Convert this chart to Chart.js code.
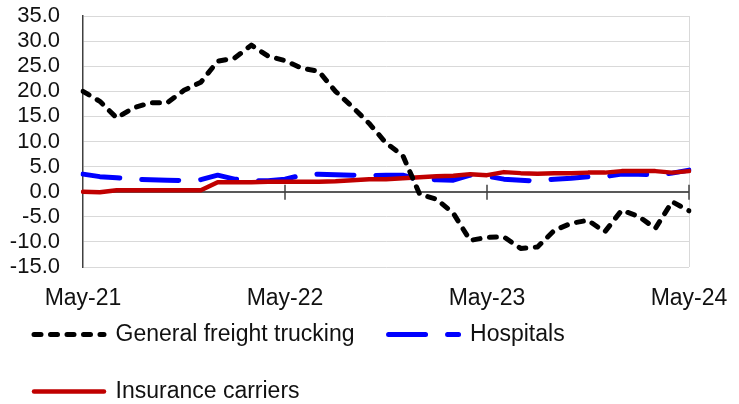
<!DOCTYPE html>
<html>
<head>
<meta charset="utf-8">
<script src="https://cdn.jsdelivr.net/npm/chart.js@4"></script>
<style>
  body { margin: 0; background: #fff; }
  #wrap { width: 739px; height: 404px; position: relative; }
</style>
</head>
<body>
<div id="wrap"><canvas id="chart"></canvas></div>
<script>
const months = [
  'May-21', 'Jun-21', 'Jul-21', 'Aug-21', 'Sep-21', 'Oct-21', 'Nov-21', 'Dec-21',
  'Jan-22', 'Feb-22', 'Mar-22', 'Apr-22', 'May-22', 'Jun-22', 'Jul-22', 'Aug-22',
  'Sep-22', 'Oct-22', 'Nov-22', 'Dec-22', 'Jan-23', 'Feb-23', 'Mar-23', 'Apr-23',
  'May-23', 'Jun-23', 'Jul-23', 'Aug-23', 'Sep-23', 'Oct-23', 'Nov-23', 'Dec-23',
  'Jan-24', 'Feb-24', 'Mar-24', 'Apr-24', 'May-24'
];

const trucking = [
  20.0, 18.0, 14.7, 16.7, 17.7, 17.7, 20.2, 21.8, 26.0, 26.6, 29.2, 27.0, 26.1,
  24.6, 24.0, 20.0, 16.9, 13.6, 9.7, 7.2, -0.5, -1.5, -4.3, -9.7, -9.1, -9.0,
  -11.3, -11.0, -7.7, -6.3, -5.7, -8.0, -3.7, -4.9, -7.3, -2.0, -3.8
];

const hospitals = [
  3.5, 3.0, 2.8, 2.5, 2.4, 2.3, 2.2, 2.4, 3.3, 2.5, 2.2, 2.2, 2.5,
  3.3, 3.5, 3.4, 3.3, 3.2, 3.3, 3.3, 2.3, 2.4, 2.3, 3.3, 3.1, 2.5,
  2.3, 2.1, 2.5, 2.7, 3.0, 3.0, 3.5, 3.5, 3.3, 3.7, 4.3
];

const insurance = [
  0.0, -0.1, 0.3, 0.3, 0.3, 0.3, 0.3, 0.3, 1.9, 1.9, 1.9, 2.0, 2.0,
  2.0, 2.0, 2.1, 2.3, 2.5, 2.5, 2.7, 2.9, 3.1, 3.2, 3.5, 3.3, 3.9,
  3.7, 3.6, 3.7, 3.7, 3.8, 3.8, 4.1, 4.1, 4.1, 3.8, 4.1
];

const textColor = '#111';
const fontFamily = "'Liberation Sans', Arial, sans-serif";

// small tick marks crossing the zero line, one per year
const zeroTicks = {
  id: 'zeroTicks',
  beforeDatasetsDraw(chart) {
    const { ctx, scales: { x, y } } = chart;
    const y0 = y.getPixelForValue(0);
    ctx.save();
    ctx.strokeStyle = '#404040';
    ctx.lineWidth = 1.5;
    months.forEach((m, i) => {
      if (i > 0 && i % 12 === 0) {
        const px = x.getPixelForValue(i);
        ctx.beginPath();
        ctx.moveTo(px, y0 - 7);
        ctx.lineTo(px, y0 + 8);
        ctx.stroke();
      }
    });
    ctx.restore();
  }
};

new Chart(document.getElementById('chart'), {
  type: 'line',
  data: {
    labels: months,
    datasets: [
      {
        label: 'General freight trucking',
        data: trucking,
        borderColor: '#000000',
        backgroundColor: '#000000',
        borderWidth: 5,
        borderDash: [7, 9.5],
        borderCapStyle: 'round',
        order: 0
      },
      {
        label: 'Hospitals',
        data: hospitals,
        borderColor: '#0000FF',
        backgroundColor: '#0000FF',
        borderWidth: 5,
        borderDash: [37, 22],
        borderCapStyle: 'round',
        order: 2
      },
      {
        label: 'Insurance carriers',
        data: insurance,
        borderColor: '#C00000',
        backgroundColor: '#C00000',
        borderWidth: 4.5,
        borderCapStyle: 'round',
        order: 1
      }
    ]
  },
  options: {
    responsive: true,
    maintainAspectRatio: false,
    animation: false,
    layout: {
      padding: { top: 16, left: 0, right: 50, bottom: 0 }
    },
    elements: {
      point: { radius: 0 },
      line: { tension: 0, borderJoinStyle: 'round' }
    },
    scales: {
      x: {
        type: 'category',
        offset: false,
        border: { display: false },
        grid: {
          drawTicks: false,
          color: ctx => (ctx.index === months.length - 1 ? '#D9D9D9' : 'rgba(0,0,0,0)'),
          lineWidth: 1
        },
        ticks: {
          autoSkip: false,
          maxRotation: 0,
          minRotation: 0,
          padding: 18,
          color: textColor,
          font: { family: fontFamily, size: 23 },
          callback: (value, index) => (index % 12 === 0 ? months[index] : '')
        },
        afterFit: scale => {
          scale.height = 48;
          scale.paddingLeft = 38;
          scale.paddingRight = 38;
        }
      },
      y: {
        min: -15,
        max: 35,
        border: { display: true, color: '#404040', width: 1.5 },
        grid: {
          drawTicks: false,
          color: ctx => (ctx.tick && ctx.tick.value === 0 ? '#595959' : '#D9D9D9'),
          lineWidth: ctx => (ctx.tick && ctx.tick.value === 0 ? 2 : 1)
        },
        ticks: {
          stepSize: 5,
          autoSkip: false,
          padding: 23,
          color: textColor,
          font: { family: fontFamily, size: 22 },
          callback: value => value.toFixed(1)
        },
        afterFit: scale => {
          scale.width = 83;
          scale.paddingTop = 13;
          scale.paddingBottom = 13;
        }
      }
    },
    plugins: {
      legend: {
        position: 'bottom',
        align: 'start',
        maxHeight: 89,
        // empty title with negative padding pulls the legend rows up under the x labels
        title: {
          display: true,
          text: '',
          font: { size: 10, lineHeight: 1 },
          padding: { top: -36, bottom: 0 }
        },
        labels: {
          usePointStyle: true,
          pointStyle: 'line',
          pointStyleWidth: 70,
          padding: 34,
          color: textColor,
          font: { family: fontFamily, size: 23 },
          sort: (a, b) => a.datasetIndex - b.datasetIndex,
          generateLabels: chart =>
            Chart.defaults.plugins.legend.labels.generateLabels(chart).map(item => {
              const ds = chart.data.datasets[item.datasetIndex];
              return {
                ...item,
                lineDash: ds.borderDash || [],
                lineCap: 'round',
                lineWidth: ds.borderWidth
              };
            })
        }
      },
      tooltip: { enabled: false }
    }
  },
  plugins: [zeroTicks]
});
</script>
</body>
</html>
